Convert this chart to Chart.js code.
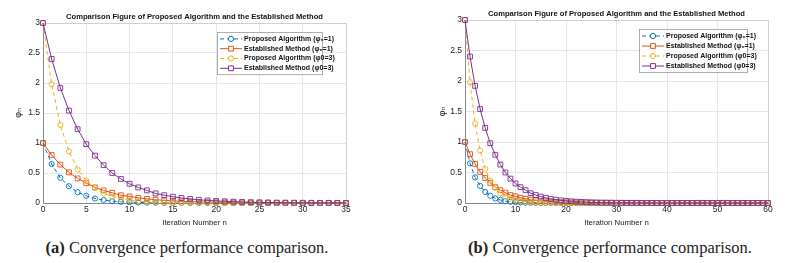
<!DOCTYPE html>
<html>
<head>
<meta charset="utf-8">
<script src="https://cdn.jsdelivr.net/npm/chart.js@4/dist/chart.umd.min.js"></script>
<style>
body { margin: 0; background: #fff; width: 788px; height: 263px; overflow: hidden; position: relative; }
.panel { position: absolute; top: 0; width: 394px; height: 232px; }
.cap { position: absolute; top: 238px; width: 394px; text-align: center; font-family: "Liberation Serif", "DejaVu Serif", serif; font-size: 16.5px; color: #222; white-space: nowrap; }
</style>
</head>
<body>
<div class="panel" style="left:0"><canvas id="chartA"></canvas></div>
<div class="panel" style="left:394px"><canvas id="chartB"></canvas></div>
<div class="cap" style="left:-10px"><b>(a)</b> Convergence performance comparison.</div>
<div class="cap" style="left:413px"><b>(b)</b> Convergence performance comparison.</div>
<script>
// φn per iteration (n = 0..60)
const propA = [
    1, 0.65, 0.42, 0.28, 0.18, 0.12, 0.075, 0.05, 0.03, 0.02,
    0.013, 0.009, 0.006, 0.004, 0.003, 0.002, 0.001, 0.001, 0, 0,
    0, 0, 0, 0, 0, 0, 0, 0, 0, 0,
    0, 0, 0, 0, 0, 0, 0, 0, 0, 0,
    0, 0, 0, 0, 0, 0, 0, 0, 0, 0,
    0, 0, 0, 0, 0, 0, 0, 0, 0, 0,
    0
];
const estA = [
    1, 0.8, 0.64, 0.51, 0.41, 0.33, 0.26, 0.21, 0.17, 0.13,
    0.11, 0.086, 0.069, 0.055, 0.044, 0.035, 0.028, 0.023, 0.018, 0.014,
    0.012, 0.009, 0.007, 0.006, 0.005, 0.004, 0.003, 0.002, 0.002, 0.002,
    0.001, 0.001, 0.001, 0.001, 0, 0, 0, 0, 0, 0,
    0, 0, 0, 0, 0, 0, 0, 0, 0, 0,
    0, 0, 0, 0, 0, 0, 0, 0, 0, 0,
    0
];
const propB = [
    3, 1.98, 1.3, 0.86, 0.56, 0.37, 0.25, 0.16, 0.11, 0.07,
    0.045, 0.03, 0.02, 0.013, 0.009, 0.006, 0.004, 0.003, 0.002, 0.001,
    0.001, 0, 0, 0, 0, 0, 0, 0, 0, 0,
    0, 0, 0, 0, 0, 0, 0, 0, 0, 0,
    0, 0, 0, 0, 0, 0, 0, 0, 0, 0,
    0, 0, 0, 0, 0, 0, 0, 0, 0, 0,
    0
];
const estB = [
    3, 2.4, 1.92, 1.54, 1.23, 0.98, 0.79, 0.63, 0.5, 0.4,
    0.32, 0.26, 0.21, 0.16, 0.13, 0.105, 0.084, 0.068, 0.054, 0.043,
    0.035, 0.028, 0.022, 0.018, 0.014, 0.011, 0.009, 0.007, 0.006, 0.005,
    0.004, 0.003, 0.002, 0.002, 0.002, 0.001, 0.001, 0.001, 0.001, 0,
    0, 0, 0, 0, 0, 0, 0, 0, 0, 0,
    0, 0, 0, 0, 0, 0, 0, 0, 0, 0,
    0
];
const seriesLabels = [
    'Proposed Algorithm (φ₀=1)',
    'Established Method (φ₀=1)',
    'Proposed Algorithm (φ0=3)',
    'Established Method (φ0=3)'
];
const chartTitle = 'Comparison Figure of Proposed Algorithm and the Established Method';
const xTitle = 'Iteration Number n';
const yTitle = 'φₙ';
const xMaxA = 35, xStepA = 5;
const xMaxB = 60, xStepB = 10;

const colors = ['#0072BD', '#D95319', '#EDB120', '#7E2F8E'];
const FONT = 'Liberation Sans, Arial, sans-serif';

function makeDatasets(count) {
    const all = [propA, estA, propB, estB];
    return all.map((vals, k) => {
        const proposed = k % 2 === 0;
        return {
            label: seriesLabels[k],
            data: vals.slice(0, count).map((v, i) => ({ x: i, y: v })),
            borderColor: colors[k],
            backgroundColor: 'rgba(0,0,0,0)',
            borderWidth: 1,
            borderDash: proposed ? [4, 3] : [],
            pointStyle: proposed ? 'circle' : 'rect',
            pointRadius: proposed ? 2.6 : 3.4,
            pointBorderWidth: 0.9,
            pointBackgroundColor: 'rgba(0,0,0,0)',
            pointBorderColor: colors[k],
            tension: 0,
            clip: false,
            order: 4 - k
        };
    });
}

// light frame on top/right like the matlab axes box
const framePlugin = {
    id: 'frame',
    beforeDatasetsDraw(chart) {
        const { left, top, right, bottom } = chart.chartArea;
        const ctx = chart.ctx;
        ctx.save();
        ctx.strokeStyle = '#d0d0d0';
        ctx.lineWidth = 1;
        ctx.beginPath();
        ctx.moveTo(left, top + 0.5);
        ctx.lineTo(right + 0.5, top + 0.5);
        ctx.lineTo(right + 0.5, bottom);
        ctx.stroke();
        ctx.restore();
    }
};

// boxed legend placed inside the plot
const boxLegend = {
    id: 'boxLegend',
    afterDraw(chart, args, opts) {
        const ctx = chart.ctx;
        const sets = chart.data.datasets;
        const h = opts.rowH * sets.length + 3;
        ctx.save();
        ctx.fillStyle = '#fff';
        ctx.fillRect(opts.x, opts.y, opts.w, h);
        ctx.strokeStyle = '#9a9a9a';
        ctx.lineWidth = 0.8;
        ctx.strokeRect(opts.x + 0.5, opts.y + 0.5, opts.w, h);
        sets.forEach((ds, i) => {
            const cy = opts.y + 2 + opts.rowH * (i + 0.5);
            ctx.strokeStyle = ds.borderColor;
            ctx.lineWidth = 1;
            ctx.setLineDash(ds.borderDash);
            ctx.beginPath();
            ctx.moveTo(opts.x + 3, cy);
            ctx.lineTo(opts.x + 25, cy);
            ctx.stroke();
            ctx.setLineDash([]);
            ctx.fillStyle = '#fff';
            Chart.helpers.drawPoint(ctx, {
                pointStyle: ds.pointStyle,
                radius: ds.pointRadius,
                borderWidth: ds.pointBorderWidth,
                rotation: 0
            }, opts.x + 14, cy);
            ctx.fillStyle = '#111';
            ctx.font = 'bold 7px ' + FONT;
            ctx.textBaseline = 'middle';
            ctx.textAlign = 'left';
            ctx.fillText(ds.label, opts.x + 27, cy);
        });
        ctx.restore();
    }
};

function buildChart(id, count, xMax, xStep, area, legendPos) {
    const canvas = document.getElementById(id);
    canvas.width = 394;
    canvas.height = 232;
    return new Chart(canvas.getContext('2d'), {
        type: 'line',
        data: { datasets: makeDatasets(count) },
        plugins: [framePlugin, boxLegend],
        options: {
            responsive: false,
            animation: false,
            devicePixelRatio: 1,
            layout: { padding: { top: 0, left: 0, right: 394 - area.right, bottom: 0 } },
            plugins: {
                legend: { display: false },
                tooltip: { enabled: false },
                title: {
                    display: true,
                    fullSize: false,
                    text: chartTitle,
                    color: '#111',
                    font: { family: FONT, size: 7.6, weight: 'bold' },
                    padding: { top: area.titleTop, bottom: area.top - area.titleTop - 9.12 }
                },
                boxLegend: legendPos
            },
            scales: {
                x: {
                    type: 'linear',
                    min: 0,
                    max: xMax,
                    afterFit(scale) { scale.height = 232 - area.bottom; },
                    ticks: { stepSize: xStep, color: '#1a1a1a', font: { family: FONT, size: 8.5 }, padding: 2, maxRotation: 0 },
                    grid: { color: '#e6e6e6', drawTicks: false },
                    border: { color: '#8a8a8a' },
                    title: { display: true, text: xTitle, color: '#1a1a1a', font: { family: FONT, size: 7.8 }, padding: { top: -1 } }
                },
                y: {
                    min: 0,
                    max: 3,
                    afterFit(scale) { scale.width = area.left; },
                    ticks: {
                        stepSize: 0.5,
                        color: '#1a1a1a',
                        font: { family: FONT, size: 8.5 },
                        padding: 3,
                        callback: value => String(value)
                    },
                    grid: { color: '#e6e6e6', drawTicks: false },
                    border: { color: '#8a8a8a' },
                    title: { display: true, text: yTitle, color: '#1a1a1a', font: { family: 'DejaVu Sans, sans-serif', size: 9.5 }, padding: { top: area.yTitlePad, bottom: 0 } }
                }
            }
        }
    });
}

buildChart('chartA', xMaxA + 1, xMaxA, xStepA,
    { left: 43, right: 346, top: 23, bottom: 203, titleTop: 12, yTitlePad: 13 },
    { x: 217, y: 32, w: 105, rowH: 9.8 });
buildChart('chartB', xMaxB + 1, xMaxB, xStepB,
    { left: 71, right: 374, top: 20, bottom: 203, titleTop: 9, yTitlePad: 43 },
    { x: 245, y: 29, w: 108, rowH: 10 });
</script>
</body>
</html>
